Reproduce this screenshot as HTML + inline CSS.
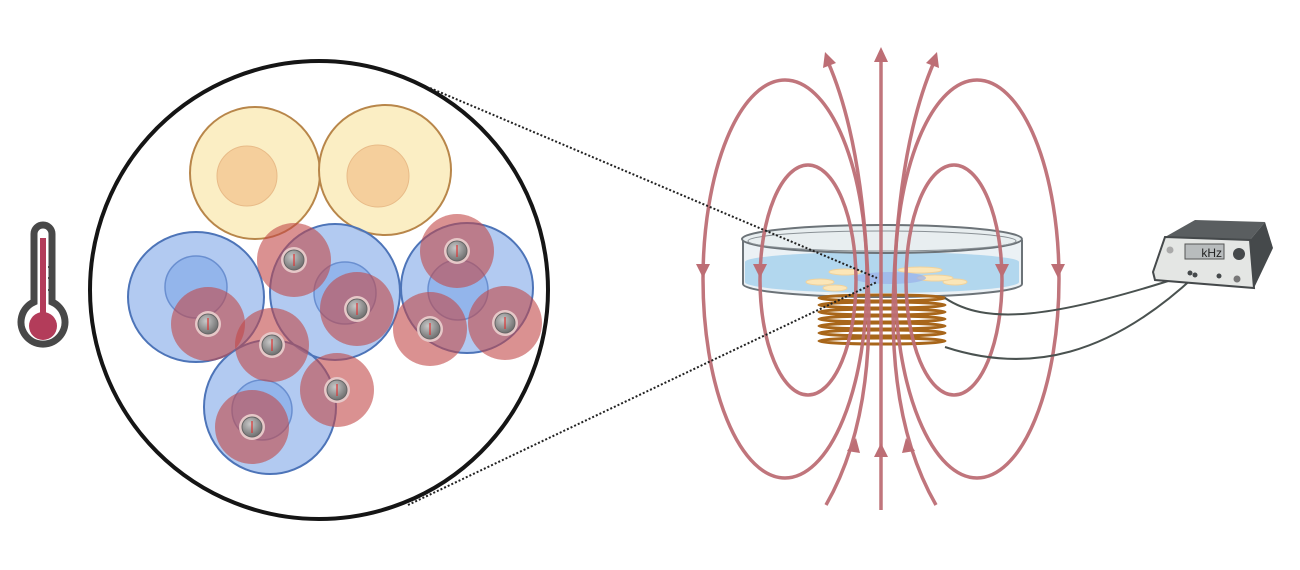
<!DOCTYPE html>
<html><head><meta charset="utf-8"><style>
html,body{margin:0;padding:0;background:#fff;width:1300px;height:570px;overflow:hidden}
</style></head><body>
<svg width="1300" height="570" viewBox="0 0 1300 570" xmlns="http://www.w3.org/2000/svg">
<defs>
<radialGradient id="np" cx="0.4" cy="0.35" r="0.7"><stop offset="0" stop-color="#c8c8c8"/><stop offset="1" stop-color="#6a6a6a"/></radialGradient>
<g id="p"><circle r="37" fill="#c24848" fill-opacity="0.6"/><circle r="13" fill="#e6c8c8"/><circle r="10" fill="url(#np)" stroke="#666" stroke-width="1"/><line x1="0" y1="-6" x2="0" y2="6" stroke="#d33" stroke-width="1.2"/></g>
</defs>
<!-- thermometer -->
<path d="M34,234 a9,9 0 0 1 18,0 v68 a22,22 0 1 1 -18,0z" fill="#fff" stroke="#484848" stroke-width="7"/>
<rect x="40" y="238" width="6" height="80" fill="#b33c5a"/>
<circle cx="43" cy="326" r="14" fill="#b33c5a"/>
<g stroke="#484848" stroke-width="2"><line x1="48" y1="267" x2="52" y2="267"/><line x1="48" y1="278" x2="52" y2="278"/><line x1="48" y1="290" x2="52" y2="290"/></g>
<!-- cells -->
<ellipse cx="255" cy="173" rx="65" ry="66" fill="#fbeec4" stroke="#b8864a" stroke-width="2"/>
<ellipse cx="385" cy="170" rx="66" ry="65" fill="#fbeec4" stroke="#b8864a" stroke-width="2"/>
<circle cx="247" cy="176" r="30" fill="#f5cf9c" stroke="#e8bb88"/>
<circle cx="378" cy="176" r="31" fill="#f5cf9c" stroke="#e8bb88"/>
<g fill="#7fa6e8" fill-opacity="0.6" stroke="#4d74b8" stroke-width="2">
<ellipse cx="196" cy="297" rx="68" ry="65"/>
<ellipse cx="335" cy="292" rx="65" ry="68"/>
<ellipse cx="467" cy="288" rx="66" ry="65"/>
<ellipse cx="270" cy="407" rx="66" ry="67"/>
</g>
<g fill="#7fa6e8" fill-opacity="0.6" stroke="#6a8fd0" stroke-width="1.5">
<circle cx="196" cy="287" r="31"/><circle cx="345" cy="293" r="31"/><circle cx="458" cy="290" r="30"/><circle cx="262" cy="410" r="30"/>
</g>
<use href="#p" x="294" y="260"/><use href="#p" x="357" y="309"/><use href="#p" x="208" y="324"/>
<use href="#p" x="272" y="345"/><use href="#p" x="337" y="390"/><use href="#p" x="252" y="427"/>
<use href="#p" x="457" y="251"/><use href="#p" x="430" y="329"/><use href="#p" x="505" y="323"/>
<circle cx="319" cy="290" r="229" fill="none" stroke="#151515" stroke-width="4"/>
<!-- petri dish -->
<path d="M743,240 v44 a139,13 0 0 0 279,0 v-44" fill="#e6eef2" fill-opacity="0.8" stroke="#6c7378" stroke-width="2"/>
<path d="M745,262 a137,10 0 0 1 274,0 v20 a137,11 0 0 1 -274,0z" fill="#a8d2ec" fill-opacity="0.85"/>
<ellipse cx="882" cy="239" rx="140" ry="14" fill="#e8eef0" stroke="#6c7378" stroke-width="2"/>
<ellipse cx="882" cy="241" rx="134" ry="10" fill="none" stroke="#8a9196" stroke-width="1"/>
<g fill="#fbe6b8" stroke="#f0d29c"><ellipse cx="845" cy="272" rx="16" ry="3"/><ellipse cx="920" cy="270" rx="22" ry="3"/><ellipse cx="955" cy="282" rx="12" ry="3"/><ellipse cx="820" cy="282" rx="14" ry="3"/><ellipse cx="935" cy="278" rx="18" ry="3"/><ellipse cx="835" cy="288" rx="12" ry="3"/></g>
<ellipse cx="890" cy="278" rx="36" ry="6" fill="#9ab0ea" fill-opacity="0.7"/>
<!-- coil -->
<g fill="none" stroke="#a8661a" stroke-width="3">
<ellipse cx="882" cy="298" rx="63" ry="3"/><ellipse cx="882" cy="305" rx="63" ry="3"/><ellipse cx="882" cy="312" rx="63" ry="3"/><ellipse cx="882" cy="319" rx="63" ry="3"/><ellipse cx="882" cy="326" rx="63" ry="3"/><ellipse cx="882" cy="333" rx="63" ry="3"/><ellipse cx="882" cy="341" rx="63" ry="3"/>
</g>
<!-- field lines -->
<g fill="none" stroke="#bd6e75" stroke-width="3.5" stroke-opacity="0.95">
<ellipse cx="785" cy="279" rx="82" ry="199"/><ellipse cx="977" cy="279" rx="82" ry="199"/>
<ellipse cx="808" cy="280" rx="48" ry="115"/><ellipse cx="954" cy="280" rx="48" ry="115"/>
<line x1="881" y1="510" x2="881" y2="58"/>
<path d="M826,505 Q875,420 868,280 Q862,140 828,62"/>
<path d="M936,505 Q887,420 894,280 Q900,140 934,62"/>
</g>
<g fill="#bd6e75">
<polygon points="881,47 874,62 888,62"/>
<polygon points="825,52 823,68 836,63"/><polygon points="937,52 939,68 926,63"/>
<polygon points="881,443 874,457 888,457"/>
<polygon points="856,438 847,451 860,453"/><polygon points="906,438 915,451 902,453"/>
<polygon points="703,278 696,264 710,264"/><polygon points="760,278 753,264 767,264"/>
<polygon points="1002,278 995,264 1009,264"/><polygon points="1058,278 1051,264 1065,264"/>
</g>
<!-- wires -->
<g fill="none" stroke="#4a5250" stroke-width="2">
<path d="M945,298 C985,325 1050,320 1190,274"/>
<path d="M945,347 C1030,375 1110,355 1195,276"/>
</g>
<!-- device -->
<polygon points="1165,237 1195,220 1265,222 1250,240" fill="#5a5e60"/>
<polygon points="1250,240 1265,222 1273,248 1254,288" fill="#45494b"/>
<polygon points="1165,237 1250,240 1254,288 1155,280 1153,272" fill="#e4e6e4" stroke="#45494b" stroke-width="2"/>
<rect x="1185" y="244" width="39" height="15" fill="#b8bcbd" stroke="#555"/>
<text x="1222" y="257" font-family="Liberation Sans, sans-serif" font-size="12" text-anchor="end" fill="#222">kHz</text>
<circle cx="1170" cy="250" r="3.5" fill="#aaa"/><circle cx="1239" cy="254" r="6" fill="#45494b"/>
<circle cx="1219" cy="276" r="2.5" fill="#45494b"/><circle cx="1237" cy="279" r="3.5" fill="#777"/>
<circle cx="1190" cy="273" r="2.5" fill="#45494b"/><circle cx="1195" cy="275" r="2.5" fill="#45494b"/>
<!-- zoom lines -->
<g stroke="#222" stroke-width="2" stroke-dasharray="2,2"><line x1="430" y1="88" x2="877" y2="278"/><line x1="408" y1="505" x2="877" y2="282"/></g>
</svg>
</body></html>
